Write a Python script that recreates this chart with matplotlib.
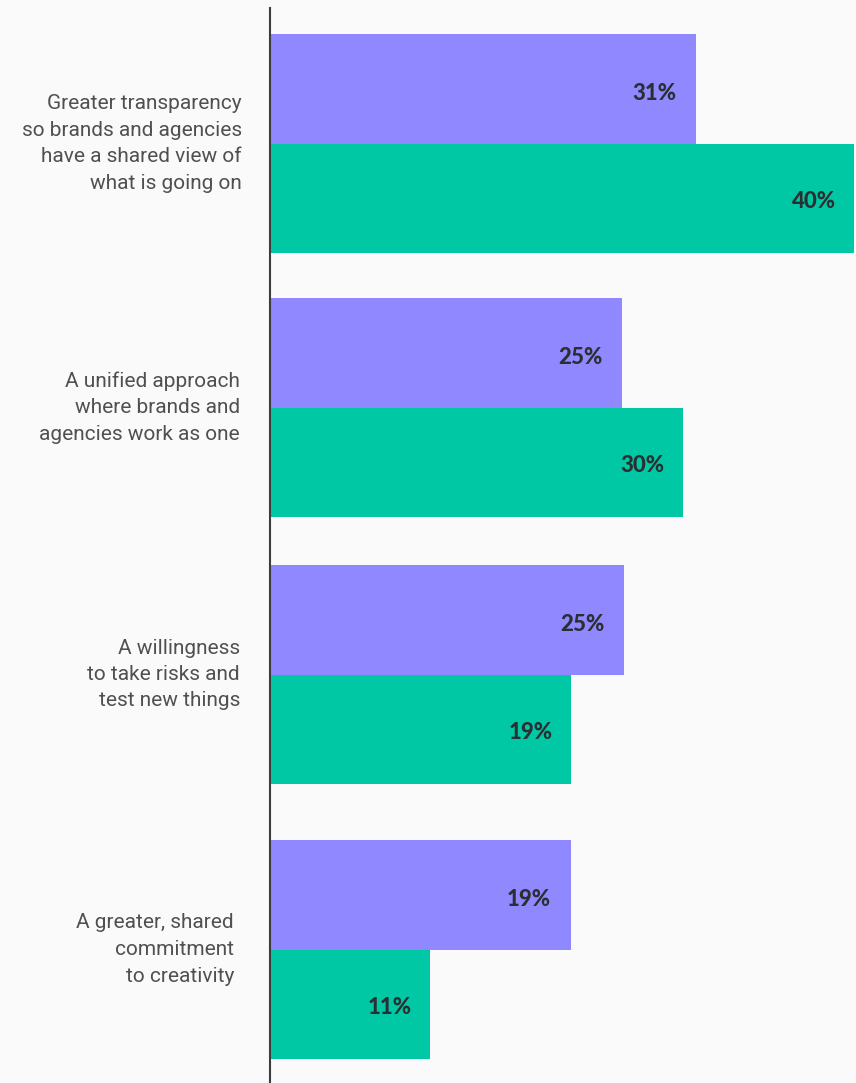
import matplotlib
matplotlib.use("Agg")
import matplotlib.pyplot as plt

categories = [
    "Greater transparency\nso brands and agencies\nhave a shared view of\nwhat is going on",
    "A unified approach\nwhere brands and\nagencies work as one",
    "A willingness\nto take risks and\ntest new things",
    "A greater, shared\ncommitment\nto creativity",
]
# displayed percentages
purple_pct = [31, 25, 25, 19]
green_pct = [40, 30, 19, 11]
# bar lengths as drawn in the picture (percent units)
purple_len = [29.2, 24.1, 24.25, 20.6]
green_len = [40.0, 28.3, 20.6, 10.95]

PURPLE = "#8f88ff"
GREEN = "#00c8a4"
BG = "#fafafa"
W, H = 856, 1083
fig = plt.figure(figsize=(W / 100, H / 100), dpi=100, facecolor=BG)
ax = fig.add_axes([270 / W, 0, (W - 270) / W, 1])
ax.set_facecolor(BG)
ax.set_xlim(0, (W - 270) / 14.6)
ax.set_ylim(H, 0)

group_tops = [34, 298, 565, 840]
bh = 109.5
label_right = [242, 240, 240, 234]

vfont = dict(fontsize=16, fontweight="black", family=["Lato", "Roboto", "DejaVu Sans"],
             color="#2b2f33")
for i, cat in enumerate(categories):
    t = group_tops[i]
    yp = t + bh / 2
    yg = t + bh + bh / 2
    ax.barh(yp, purple_len[i], height=bh, color=PURPLE, left=0, linewidth=0)
    ax.barh(yg, green_len[i], height=bh, color=GREEN, left=0, linewidth=0)
    ax.text(purple_len[i] - 1.35, yp + 5, f"{purple_pct[i]}%", ha="right", va="center", **vfont)
    ax.text(green_len[i] - 1.25, yg + 3, f"{green_pct[i]}%", ha="right", va="center", **vfont)
    fig.text(label_right[i] / W, 1 - (t + bh) / H, cat, ha="right", va="center",
             fontsize=15, fontweight="normal", family="Roboto", color="#505050",
             linespacing=1.5)

for s in ["top", "right", "bottom"]:
    ax.spines[s].set_visible(False)
ax.spines["left"].set_color("#3a3d40")
ax.spines["left"].set_linewidth(1.5)
ax.spines["left"].set_bounds(H, 8)
ax.set_xticks([])
ax.set_yticks([])

fig.savefig("out.png", dpi=100, facecolor=BG)
